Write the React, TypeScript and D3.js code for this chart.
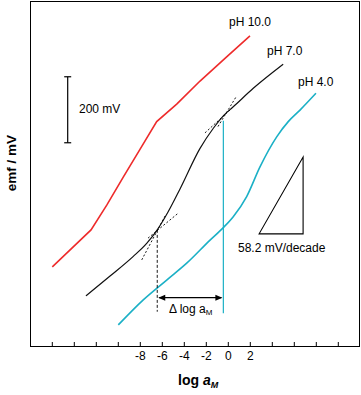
import React from "react";
import * as d3 from "d3";

const xTicks = [-16, -14, -12, -10, -8, -6, -4, -2, 0, 2, 4, 6, 8, 10];
const xTickLabels = ["", "", "", "", "-8", "-6", "-4", "-2", "0", "2", "", "", "", ""];

const redLogA = [-16.0, -12.48, -11.05, -9.55, -8.03, -6.51, -4.69, -2.57, -0.15, 1.97];
const redEmf = [242, 354, 429, 514, 598, 682, 735, 805, 878, 942];

const blackLogA = [-12.94, -10.75, -8.66, -7.42, -6.46, -5.48, -4.39, -2.57, -1.36, -0.39, 0.45, 2.27, 4.99];
const blackEmf = [154, 214, 273, 313, 354, 408, 478, 601, 662, 702, 727, 783, 856];

const cyanLogA = [-10.0, -7.73, -5.6, -3.78, -1.66, -0.45, 0.45, 1.67, 2.88, 4.4, 5.45, 6.52, 7.97];
const cyanEmf = [66, 142, 202, 253, 323, 361, 394, 455, 545, 636, 682, 717, 768];

const seriesNames = ["pH 10.0", "pH 7.0", "pH 4.0"];

// tangent construction lines [logA1, emf1, logA2, emf2]
const tangents = [
  [-7.87, 263, -5.75, 396],
  [-7.3, 329, -4.54, 405],
  [-2.12, 648, 0.34, 723],
  [-0.94, 667, 0.76, 760],
];
const leftMark = { logA: -6.46, emfTop: 354, emfBottom: 106 };
const rightMark = { logA: -0.45, emfTop: 685, emfBottom: 101 };
const arrowEmf = 148.5;

const scaleBar = { logA: -14.6, emfLow: 618, emfHigh: 818 };
const slopeTri = { logA1: 2.8, logA2: 6.8, emfBase: 342, slope: 58.2 };

const RED = "#ee2b2b";
const BLACK = "#111111";
const CYAN = "#1bb0c6";

export default function App() {
  const x = d3.scaleLinear().domain([-16, 10]).range([52.3, 338.3]);
  const y = d3.scaleLinear().domain([0, 1000]).range([346.7, 16.7]);
  const line = d3
    .line<[number, number]>()
    .x((d) => x(d[0]))
    .y((d) => y(d[1]));
  const smooth = d3
    .line<[number, number]>()
    .x((d) => x(d[0]))
    .y((d) => y(d[1]))
    .curve(d3.curveMonotoneX);
  const zip = (a: number[], b: number[]) => a.map((v, i) => [v, b[i]] as [number, number]);

  const font = "'Liberation Sans', Arial, Helvetica, sans-serif";
  const ax = x(leftMark.logA);
  const bx = x(rightMark.logA);
  const ay = y(arrowEmf);
  const triTop = slopeTri.emfBase + slopeTri.slope * (slopeTri.logA2 - slopeTri.logA1);

  return (
    <svg
      width={361}
      height={395}
      style={{ position: "absolute", left: 0, top: 0, background: "#fff" }}
      fontFamily={font}
    >
      <rect x={30.5} y={1.5} width={329} height={345} fill="none" stroke="#000" strokeWidth={1} />
      {xTicks.map((t, i) => (
        <g key={t}>
          <line x1={x(t)} x2={x(t)} y1={346.5} y2={342} stroke="#000" strokeWidth={1} />
          {xTickLabels[i] && (
            <text x={x(t)} y={360} textAnchor="middle" fontSize={12} fill="#000">
              {xTickLabels[i]}
            </text>
          )}
        </g>
      ))}
      <text x={178} y={385} fontSize={14} fontWeight="bold" fill="#000">
        log{" "}
        <tspan fontStyle="italic">a</tspan>
        <tspan fontStyle="italic" fontSize={9} dy={3}>M</tspan>
      </text>
      <text
        transform="translate(16,163) rotate(-90)"
        textAnchor="middle"
        fontSize={13.5}
        fontWeight="bold"
        fill="#000"
      >
        emf / mV
      </text>

      {/* curves */}
      <path d={line(zip(redLogA, redEmf)) || ""} fill="none" stroke={RED} strokeWidth={1.6} />
      <path d={smooth(zip(blackLogA, blackEmf)) || ""} fill="none" stroke={BLACK} strokeWidth={1.2} />
      <path d={smooth(zip(cyanLogA, cyanEmf)) || ""} fill="none" stroke={CYAN} strokeWidth={1.6} />

      {/* tangents */}
      {tangents.map((t, i) => (
        <line
          key={i}
          x1={x(t[0])}
          y1={y(t[1])}
          x2={x(t[2])}
          y2={y(t[3])}
          stroke="#000"
          strokeWidth={0.9}
          strokeDasharray="2,2"
        />
      ))}
      <line
        x1={ax}
        x2={ax}
        y1={y(leftMark.emfTop)}
        y2={y(leftMark.emfBottom)}
        stroke="#000"
        strokeWidth={0.9}
        strokeDasharray="3,2"
      />
      <line x1={bx} x2={bx} y1={y(rightMark.emfTop)} y2={y(rightMark.emfBottom)} stroke={CYAN} strokeWidth={1.2} />

      {/* arrow */}
      <line x1={ax + 2} x2={bx - 2} y1={ay} y2={ay} stroke="#000" strokeWidth={1.3} />
      <path d={`M${ax + 1},${ay} L${ax + 8},${ay - 3} L${ax + 8},${ay + 3} Z`} fill="#000" />
      <path d={`M${bx - 1},${ay} L${bx - 8},${ay - 3} L${bx - 8},${ay + 3} Z`} fill="#000" />
      <text x={169} y={313} fontSize={12} fill="#000">
        Δ log a<tspan fontSize={8} dy={2}>M</tspan>
      </text>

      {/* labels */}
      <text x={229} y={26} fontSize={12} fill="#000">{seriesNames[0]}</text>
      <text x={267} y={55} fontSize={12} fill="#000">{seriesNames[1]}</text>
      <text x={298} y={86} fontSize={12} fill="#000">{seriesNames[2]}</text>

      {/* 200 mV scale bar */}
      <line x1={x(scaleBar.logA)} x2={x(scaleBar.logA)} y1={y(scaleBar.emfHigh)} y2={y(scaleBar.emfLow)} stroke="#000" strokeWidth={1.2} />
      <line x1={x(scaleBar.logA) - 3.5} x2={x(scaleBar.logA) + 3.5} y1={y(scaleBar.emfHigh)} y2={y(scaleBar.emfHigh)} stroke="#000" strokeWidth={1.2} />
      <line x1={x(scaleBar.logA) - 3.5} x2={x(scaleBar.logA) + 3.5} y1={y(scaleBar.emfLow)} y2={y(scaleBar.emfLow)} stroke="#000" strokeWidth={1.2} />
      <text x={79} y={113} fontSize={12} fill="#000">200 mV</text>

      {/* slope triangle */}
      <path
        d={`M${x(slopeTri.logA1)},${y(slopeTri.emfBase)} L${x(slopeTri.logA2)},${y(slopeTri.emfBase)} L${x(slopeTri.logA2)},${y(triTop)} Z`}
        fill="none"
        stroke="#000"
        strokeWidth={1.1}
      />
      <text x={238} y={252} fontSize={12} fill="#000">58.2 mV/decade</text>
    </svg>
  );
}
